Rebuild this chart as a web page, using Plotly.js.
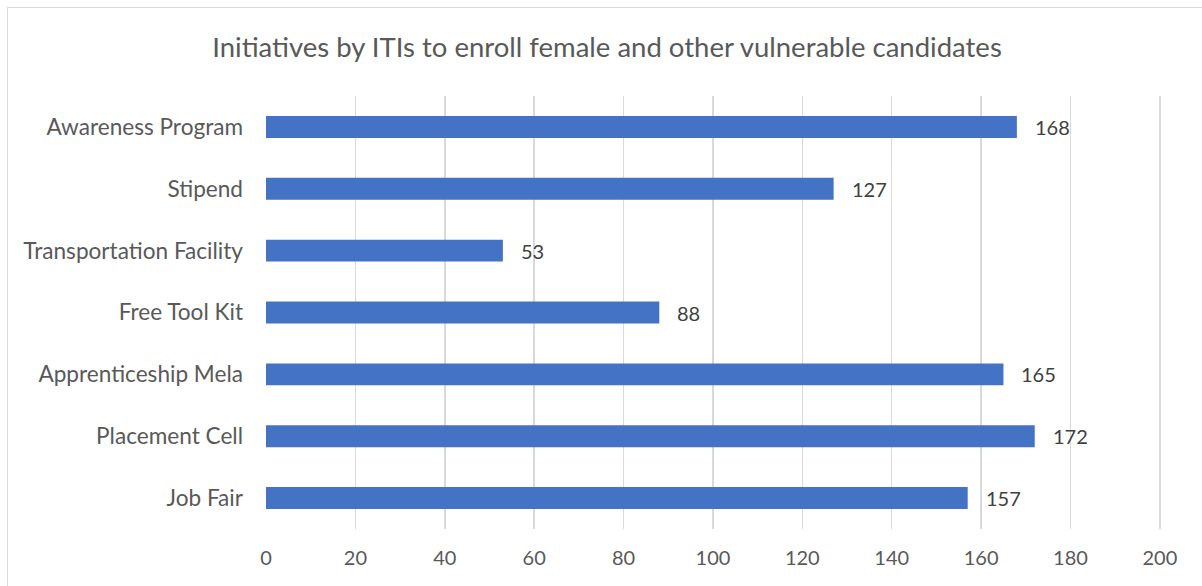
<!DOCTYPE html>
<html><head><meta charset="utf-8">
<script src="https://cdn.plot.ly/plotly-3.0.1.min.js"></script>
<style>
html,body{margin:0;padding:0;background:#fff;}
#wrap{position:relative;width:1202px;height:586px;overflow:hidden;}
#chart{width:1202px;height:586px;}
#frame{position:absolute;left:7px;top:7px;width:1300px;height:700px;border-left:1.5px solid #d9d9d9;border-top:1.5px solid #d9d9d9;pointer-events:none;}
</style></head>
<body><div id="wrap"><div id="chart"></div><div id="frame"></div></div>
<script>
const categories = ["Job Fair","Placement Cell","Apprenticeship Mela","Free Tool Kit","Transportation Facility","Stipend","Awareness Program"];
const values = [157,172,165,88,53,127,168];
const xTicks = [0,20,40,60,80,100,120,140,160,180,200];

const font = "Lato, 'Open Sans', sans-serif";
const trace = {
  type: "bar", orientation: "h",
  y: categories, x: values,
  marker: {color: "#4472C4", line: {color: "#4472C4", width: 0}},
  width: 0.355,
  hoverinfo: "x+y"
};
const annotations = categories.map((c, i) => ({
  x: values[i], y: c, xref: "x", yref: "y",
  text: String(values[i]), showarrow: false,
  xanchor: "left", yanchor: "middle", xshift: 16, yshift: 0,
  font: {family: font, size: 20, color: "#404040"}
}));
const layout = {
  width: 1202, height: 586,
  margin: {l: 266, r: 41, t: 96, b: 57},
  paper_bgcolor: "#fff", plot_bgcolor: "#fff",
  showlegend: false,
  title: {text: "Initiatives by ITIs to enroll female and other vulnerable candidates",
          x: 607/1202, xref: "container", xanchor: "center", y: 1 - 47/586, yref: "container", yanchor: "middle",
          font: {family: font, size: 27.5, color: "#595959"}},
  xaxis: {range: [0, 200.25], tickvals: xTicks, ticktext: xTicks.map(String),
          showgrid: true, gridcolor: "#d9d9d9", gridwidth: 1.5, zeroline: false,
          showline: false, ticks: "", ticklabelstandoff: 15,
          tickfont: {family: font, size: 20, color: "#595959"}},
  yaxis: {type: "category", categoryorder: "array", categoryarray: categories,
          showgrid: false, zeroline: false, showline: false, ticks: "",
          ticklabelstandoff: 22,
          tickfont: {family: font, size: 22.6, color: "#595959"}},
  annotations: annotations
};
Plotly.newPlot("chart", [trace], layout, {displayModeBar: false, staticPlot: true});
</script></body></html>
